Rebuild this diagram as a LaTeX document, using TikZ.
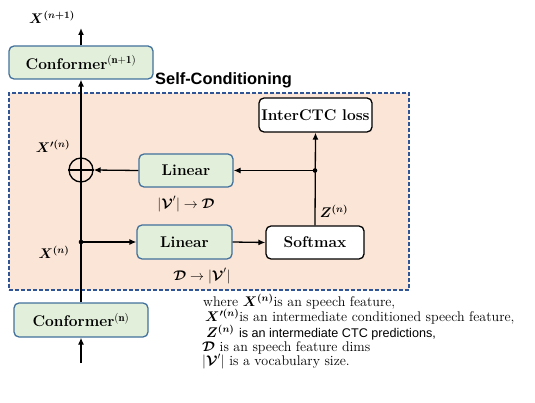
\RequirePackage{fix-cm}
\documentclass[tikz,border=0pt]{standalone}
\usepackage{amsmath}
\usepackage{bm}
\usepackage{fontspec}
\setsansfont{Liberation Sans}
\usetikzlibrary{arrows.meta}
\definecolor{boxgreen}{HTML}{E2EFDA}
\definecolor{boxblue}{HTML}{41719C}
\definecolor{peach}{HTML}{FBE5D6}
\definecolor{dashblue}{HTML}{2F5597}
\tikzset{
	convbox/.style={draw=boxblue, fill=boxgreen, rounded corners=5pt, line width=1.3pt, inner sep=0pt, font=\fontsize{15.5}{18}\selectfont\bfseries},
	plainbox/.style={draw=black, fill=white, rounded corners=5pt, line width=1.3pt, inner sep=0pt, font=\fontsize{15.5}{18}\selectfont\bfseries},
	scframe/.style={draw=dashblue, fill=peach, line width=1.2pt, dash pattern=on 4pt off 2pt},
	sumnode/.style={draw, circle, minimum size=24pt, inner sep=0pt, line width=1.3pt},
	link/.style={-{Latex[length=7pt,width=6pt]}, line width=1.3pt},
	varlabel/.style={font=\fontsize{14}{16}\selectfont},
	note/.style={anchor=west, inner sep=0pt, font=\fontsize{14}{15}\selectfont},
	blocktitle/.style={anchor=west, inner sep=0pt, font=\fontsize{16.4}{18}\selectfont\sffamily\bfseries}
}

\begin{document}
\begin{tikzpicture}[x=1pt, y=-1pt]
	%%%%% START %%%%%
	\useasboundingbox (0,0) rectangle (535,403);
	
	\node[scframe, minimum width=400pt, minimum height=197pt] (scblock) at (209,191.5) {};
	\node[blocktitle] (sctitle) at (155,80) {Self-Conditioning};
	
	\node[convbox, minimum width=144pt, minimum height=33pt] (confup) at (81,62.5) {Conformer$^{(\mathbf{n+1})}$};
	\node[convbox, minimum width=134pt, minimum height=34pt] (confdn) at (81,320) {Conformer$^{(\mathbf{n})}$};
	
	\node[convbox, minimum width=94pt, minimum height=33pt] (linA) at (186,170.5) {Linear};
	\node[convbox, minimum width=95pt, minimum height=34pt] (linB) at (184.5,242) {Linear};
	\node[plainbox, minimum width=98pt, minimum height=33pt] (soft) at (315,242.5) {Softmax};
	\node[plainbox, minimum width=113pt, minimum height=34pt] (ctc) at (315.5,115) {InterCTC loss};
	
	\node[sumnode] (sum) at (81,170) {};
	\coordinate (split) at (81,242);
	\coordinate (zsplit) at (soft.north |- linA.east);
	\coordinate (inp) at (81,363);
	\coordinate (outp) at (81,28);
	
	% main path
	\draw[link] (inp) -- (confdn.south);
	\draw[link] (confdn.north) -- (confup.south);
	\draw[link] (confup.north) -- (outp);
	\draw[line width=1.3pt] (sum.west) -- (sum.east);
	
	% branch
	\draw[link] (split) -- (linB.west);
	\draw[link] (linB.east) -- (soft.west);
	\draw[link] (soft.north) -- (ctc.south);
	\draw[link] (zsplit) -- (linA.east);
	\draw[link] (linA.west) -- (sum.east);
	\fill (split) circle (2.3);
	\fill (zsplit) circle (2.3);
	
	% labels
	\node[varlabel] (xout) at (52,17) {$\bm{X^{(n+1)}}$};
	\node[varlabel] (xcond) at (53,146) {$\bm{X'^{(n)}}$};
	\node[varlabel] (xin) at (54,252) {$\bm{X^{(n)}}$};
	\node[varlabel] (zlab) at (334,211) {$\bm{Z^{(n)}}$};
	\node[varlabel] (dimA) at (186,204) {$|\bm{\mathcal{V}}'| \rightarrow \bm{\mathcal{D}}$};
	\node[varlabel] (dimB) at (202,276) {$\bm{\mathcal{D}} \rightarrow |\bm{\mathcal{V}}'|$};
	
	% notes
	\node[note] (note1) at (203,302) {where $\bm{X^{(n)}}$is an speech feature,};
	\node[note] (note2) at (205,317) {$\bm{X'^{(n)}}$is an intermediate conditioned speech feature,};
	\node[note] (note3) at (206,332.5) {$\bm{Z^{(n)}}$ {\fontsize{12.6}{14}\selectfont\sffamily is an intermediate CTC predictions,}};
	\node[note] (note4) at (202,347.5) {$\bm{\mathcal{D}}$ is an speech feature dims};
	\node[note] (note5) at (202,361.5) {$|\bm{\mathcal{V}}'|$ is a vocabulary size.};
	%%%%% END %%%%%
\end{tikzpicture}
\end{document}
